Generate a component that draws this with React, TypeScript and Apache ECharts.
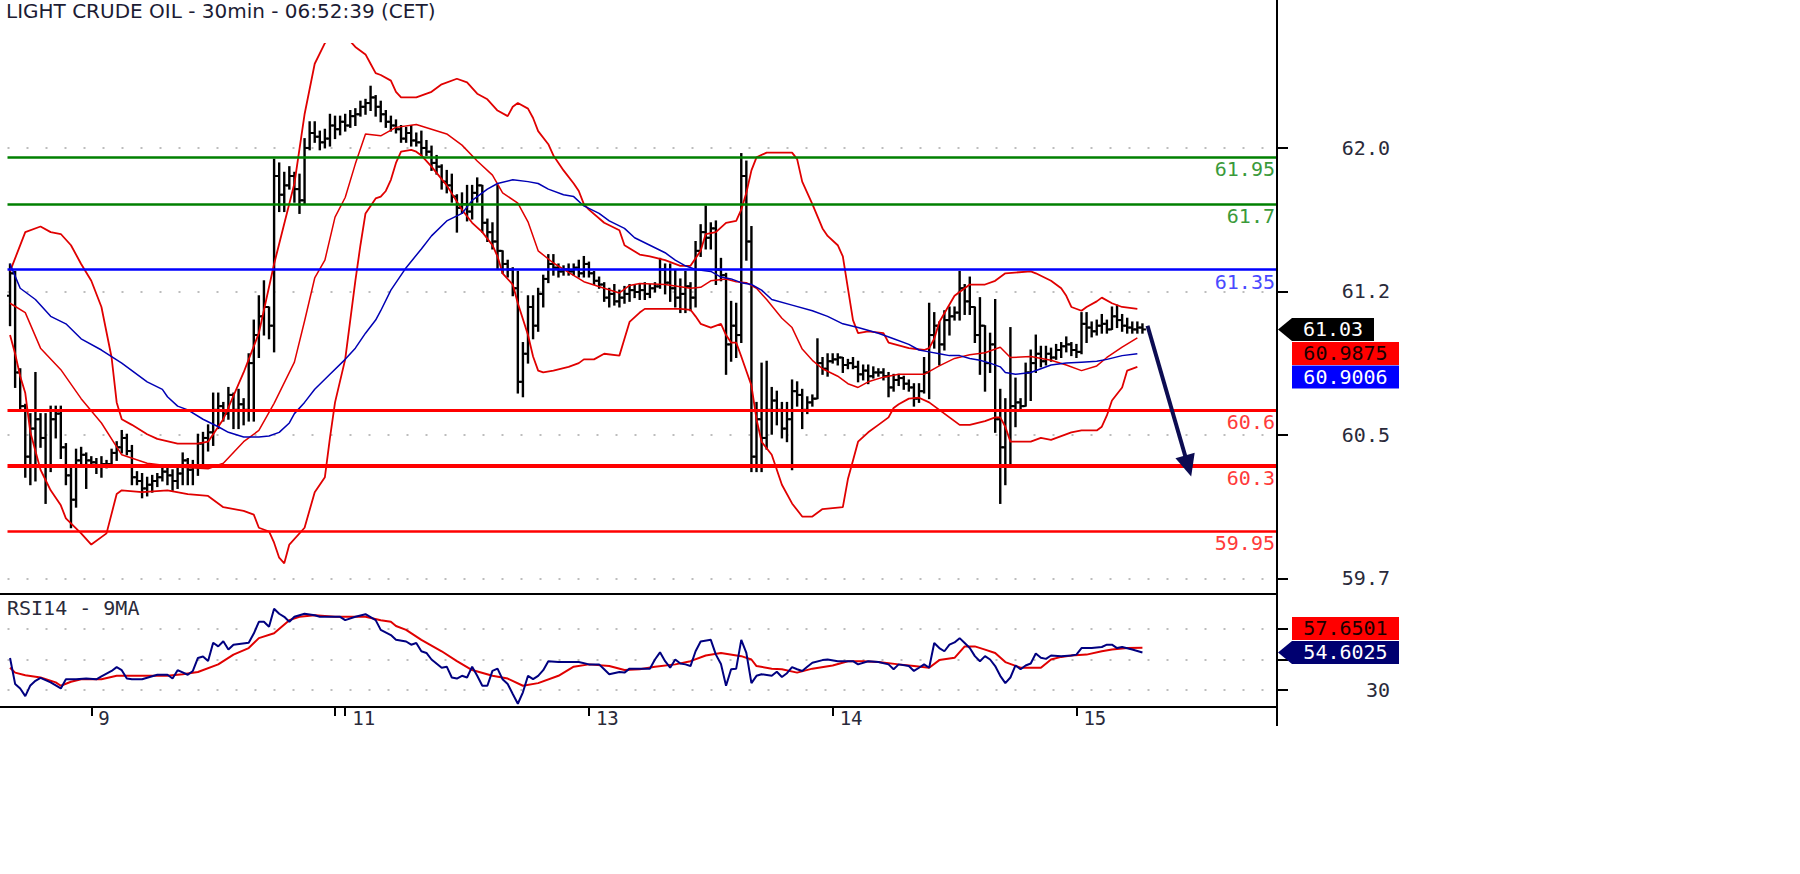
import React, { useEffect, useRef } from 'react';
import * as echarts from 'echarts';

// ---------- texts ----------
const TITLE = 'LIGHT CRUDE OIL - 30min - 06:52:39 (CET)';
const RSI_TITLE = 'RSI14 - 9MA';

// ---------- x axis (30-min slots, 250 slots, 224 bars) ----------
const SLOT_COUNT = 250;
const slotNames: string[] = [];
for (let i = 0; i < SLOT_COUNT; i++) slotNames.push(String(i));
const dayLabelSlots = [16, 66, 114, 162, 210];
const dayLabels = ['9', '11', '13', '14', '15'];
const dayTickSlots = [16, 64, 66, 114, 162, 210];

// ---------- price axis ----------
const priceTicks = [59.7, 60.467, 61.234, 62.0];
const rsiTicks = [30, 50, 70];
const rsiLabelTicks = [30];

// ---------- horizontal levels ----------
const levelValues = [61.95, 61.7, 61.35, 60.6, 60.3, 59.95];
const levelLabels = ['61.95', '61.7', '61.35', '60.6', '60.3', '59.95'];

// ---------- last values ----------
const lastPrice = 61.03;
const lastMidBand = 60.9875;
const lastMA = 60.9006;
const lastRsiMA = 57.6501;
const lastRsi = 54.6025;
const arrowFrom = [224, 61.05];
const arrowTo = [232.4, 60.3];

// ---------- OHLC bars [open, high, low, close] ----------
const ohlc = [
  [61.21, 61.38, 61.05, 61.33], [61.33, 61.34, 60.72, 60.80], [60.80, 60.82, 60.60, 60.62], [60.62, 60.63, 60.24, 60.35],
  [60.35, 60.58, 60.20, 60.50], [60.50, 60.80, 60.22, 60.55], [60.55, 60.58, 60.40, 60.45], [60.45, 60.58, 60.10, 60.30],
  [60.30, 60.62, 60.27, 60.55], [60.55, 60.62, 60.45, 60.58], [60.58, 60.62, 60.34, 60.40], [60.40, 60.42, 60.20, 60.25],
  [60.25, 60.30, 59.97, 60.12], [60.12, 60.39, 60.08, 60.33], [60.33, 60.40, 60.31, 60.36], [60.36, 60.37, 60.18, 60.33],
  [60.33, 60.35, 60.30, 60.32], [60.32, 60.34, 60.26, 60.30], [60.30, 60.35, 60.24, 60.31], [60.31, 60.33, 60.29, 60.31],
  [60.31, 60.39, 60.30, 60.37], [60.37, 60.43, 60.33, 60.40], [60.40, 60.49, 60.37, 60.45], [60.45, 60.47, 60.36, 60.38],
  [60.38, 60.41, 60.20, 60.24], [60.24, 60.27, 60.20, 60.22], [60.22, 60.26, 60.13, 60.18], [60.18, 60.24, 60.14, 60.20],
  [60.20, 60.25, 60.16, 60.22], [60.22, 60.26, 60.19, 60.24], [60.24, 60.29, 60.22, 60.27], [60.27, 60.29, 60.20, 60.25],
  [60.25, 60.28, 60.17, 60.22], [60.22, 60.30, 60.18, 60.26], [60.26, 60.37, 60.20, 60.33], [60.33, 60.34, 60.20, 60.28],
  [60.28, 60.33, 60.20, 60.30], [60.30, 60.47, 60.25, 60.42], [60.42, 60.48, 60.30, 60.45], [60.45, 60.52, 60.38, 60.48],
  [60.48, 60.69, 60.41, 60.60], [60.60, 60.69, 60.50, 60.62], [60.62, 60.64, 60.54, 60.58], [60.58, 60.72, 60.55, 60.68],
  [60.68, 60.69, 60.50, 60.60], [60.60, 60.71, 60.50, 60.63], [60.63, 60.66, 60.52, 60.60], [60.60, 60.90, 60.54, 60.85],
  [60.85, 61.08, 60.54, 61.00], [61.00, 61.21, 60.88, 61.10], [61.10, 61.29, 61.00, 61.15], [61.15, 61.15, 60.98, 61.05],
  [61.05, 61.94, 60.91, 61.85], [61.85, 61.92, 61.66, 61.75], [61.75, 61.87, 61.66, 61.80], [61.80, 61.90, 61.78, 61.85],
  [61.85, 61.87, 61.71, 61.78], [61.78, 61.86, 61.65, 61.72], [61.72, 62.05, 61.70, 62.00], [62.00, 62.14, 61.99, 62.08],
  [62.08, 62.14, 62.03, 62.06], [62.06, 62.09, 61.99, 62.03], [62.03, 62.10, 62.00, 62.05], [62.05, 62.18, 62.01, 62.12],
  [62.12, 62.17, 62.05, 62.10], [62.10, 62.17, 62.07, 62.14], [62.14, 62.18, 62.09, 62.12], [62.12, 62.20, 62.11, 62.17],
  [62.17, 62.21, 62.12, 62.18], [62.18, 62.25, 62.17, 62.22], [62.22, 62.26, 62.18, 62.24], [62.24, 62.33, 62.20, 62.27],
  [62.27, 62.28, 62.17, 62.22], [62.22, 62.25, 62.14, 62.18], [62.18, 62.20, 62.11, 62.14], [62.14, 62.17, 62.09, 62.12],
  [62.12, 62.15, 62.08, 62.10], [62.10, 62.12, 62.03, 62.05], [62.05, 62.11, 62.03, 62.08], [62.08, 62.12, 62.01, 62.04],
  [62.04, 62.08, 62.01, 62.03], [62.03, 62.09, 61.96, 62.00], [62.00, 62.04, 61.96, 61.98], [61.98, 62.01, 61.88, 61.92],
  [61.92, 61.96, 61.86, 61.90], [61.90, 61.91, 61.78, 61.82], [61.82, 61.88, 61.76, 61.80], [61.80, 61.86, 61.71, 61.74],
  [61.74, 61.75, 61.55, 61.68], [61.68, 61.76, 61.65, 61.70], [61.70, 61.80, 61.61, 61.66], [61.66, 61.80, 61.62, 61.76],
  [61.76, 61.84, 61.71, 61.80], [61.80, 61.80, 61.55, 61.60], [61.60, 61.62, 61.50, 61.55], [61.55, 61.60, 61.46, 61.50],
  [61.50, 61.80, 61.35, 61.45], [61.45, 61.45, 61.33, 61.38], [61.38, 61.40, 61.31, 61.35], [61.35, 61.36, 61.21, 61.25],
  [61.25, 61.34, 60.69, 60.75], [60.75, 60.96, 60.67, 60.90], [60.90, 61.21, 60.85, 61.15], [61.15, 61.21, 60.98, 61.05],
  [61.05, 61.25, 61.02, 61.22], [61.22, 61.32, 61.15, 61.30], [61.30, 61.43, 61.28, 61.38], [61.38, 61.43, 61.32, 61.36],
  [61.36, 61.38, 61.31, 61.34], [61.34, 61.37, 61.32, 61.35], [61.35, 61.38, 61.32, 61.34], [61.34, 61.38, 61.32, 61.36],
  [61.36, 61.40, 61.31, 61.33], [61.33, 61.42, 61.31, 61.38], [61.38, 61.39, 61.31, 61.33], [61.33, 61.34, 61.27, 61.29],
  [61.29, 61.31, 61.25, 61.27], [61.27, 61.28, 61.18, 61.20], [61.20, 61.25, 61.15, 61.22], [61.22, 61.27, 61.16, 61.18],
  [61.18, 61.24, 61.15, 61.20], [61.20, 61.26, 61.17, 61.22], [61.22, 61.27, 61.18, 61.24], [61.24, 61.27, 61.20, 61.23],
  [61.23, 61.27, 61.19, 61.24], [61.24, 61.28, 61.19, 61.22], [61.22, 61.27, 61.20, 61.25], [61.25, 61.28, 61.23, 61.26],
  [61.26, 61.41, 61.25, 61.35], [61.35, 61.38, 61.22, 61.28], [61.28, 61.38, 61.18, 61.25], [61.25, 61.35, 61.15, 61.20],
  [61.20, 61.30, 61.12, 61.22], [61.22, 61.34, 61.12, 61.26], [61.26, 61.28, 61.13, 61.20], [61.20, 61.50, 61.15, 61.45],
  [61.45, 61.59, 61.42, 61.55], [61.55, 61.69, 61.46, 61.52], [61.52, 61.60, 61.46, 61.57], [61.57, 61.61, 61.27, 61.35],
  [61.35, 61.41, 61.29, 61.32], [61.32, 61.33, 60.79, 60.95], [60.95, 61.18, 60.86, 61.05], [61.05, 61.17, 60.88, 61.00],
  [61.00, 61.97, 60.96, 61.85], [61.85, 61.93, 61.40, 61.50], [61.50, 61.58, 60.27, 60.35], [60.35, 60.64, 60.27, 60.55],
  [60.55, 60.85, 60.27, 60.45], [60.45, 60.86, 60.39, 60.60], [60.60, 60.72, 60.47, 60.65], [60.65, 60.70, 60.52, 60.60],
  [60.60, 60.64, 60.45, 60.50], [60.50, 60.64, 60.43, 60.55], [60.55, 60.76, 60.28, 60.70], [60.70, 60.75, 60.62, 60.68],
  [60.68, 60.71, 60.50, 60.60], [60.60, 60.67, 60.58, 60.64], [60.64, 60.68, 60.62, 60.66], [60.66, 60.98, 60.66, 60.85],
  [60.85, 60.88, 60.79, 60.82], [60.82, 60.90, 60.78, 60.86], [60.86, 60.90, 60.85, 60.87], [60.87, 60.90, 60.84, 60.88],
  [60.88, 60.88, 60.80, 60.84], [60.84, 60.87, 60.82, 60.85], [60.85, 60.88, 60.82, 60.83], [60.83, 60.86, 60.75, 60.79],
  [60.79, 60.84, 60.76, 60.81], [60.81, 60.84, 60.74, 60.78], [60.78, 60.83, 60.77, 60.80], [60.80, 60.82, 60.78, 60.80],
  [60.80, 60.82, 60.76, 60.78], [60.78, 60.80, 60.67, 60.72], [60.72, 60.79, 60.70, 60.76], [60.76, 60.79, 60.73, 60.77],
  [60.77, 60.78, 60.71, 60.74], [60.74, 60.76, 60.70, 60.72], [60.72, 60.74, 60.62, 60.66], [60.66, 60.74, 60.64, 60.70],
  [60.70, 60.88, 60.69, 60.80], [60.80, 61.17, 60.66, 61.00], [61.00, 61.12, 60.93, 61.05], [61.05, 61.07, 60.84, 60.95],
  [60.95, 61.13, 60.92, 61.08], [61.08, 61.15, 61.00, 61.10], [61.10, 61.15, 61.08, 61.12], [61.12, 61.34, 61.08, 61.25],
  [61.25, 61.27, 61.11, 61.18], [61.18, 61.31, 61.11, 61.15], [61.15, 61.15, 60.96, 61.00], [61.00, 61.20, 60.79, 61.05],
  [61.05, 61.05, 60.70, 60.85], [60.85, 61.01, 60.80, 60.95], [60.95, 61.19, 60.48, 60.55], [60.55, 60.71, 60.10, 60.40],
  [60.40, 60.66, 60.20, 60.30], [60.30, 61.04, 60.30, 60.62], [60.62, 60.77, 60.51, 60.64], [60.64, 60.66, 60.60, 60.62],
  [60.62, 60.85, 60.62, 60.80], [60.80, 60.92, 60.65, 60.85], [60.85, 61.00, 60.80, 60.90], [60.90, 60.94, 60.83, 60.86],
  [60.86, 60.94, 60.84, 60.90], [60.90, 60.93, 60.86, 60.88], [60.88, 60.95, 60.87, 60.92], [60.92, 60.96, 60.88, 60.94],
  [60.94, 60.99, 60.91, 60.95], [60.95, 60.96, 60.89, 60.92], [60.92, 60.95, 60.88, 60.91], [60.91, 61.12, 60.90, 61.06],
  [61.06, 61.12, 60.96, 61.04], [61.04, 61.07, 60.99, 61.02], [61.02, 61.08, 61.00, 61.05], [61.05, 61.11, 61.01, 61.06],
  [61.06, 61.08, 61.01, 61.03], [61.03, 61.15, 61.03, 61.10], [61.10, 61.16, 61.04, 61.08], [61.08, 61.11, 61.02, 61.05],
  [61.05, 61.09, 61.01, 61.04], [61.04, 61.07, 61.01, 61.03], [61.03, 61.07, 61.01, 61.04], [61.04, 61.06, 61.01, 61.03],
];

// ---------- Bollinger bands and moving average, read as [bar, value] ----------
const upperBand = [
  [0, 61.34], [3, 61.55], [6, 61.58], [8, 61.55], [10, 61.54], [12, 61.48], [14, 61.38], [16, 61.29], [18, 61.15],
  [20, 60.88], [21, 60.64], [22, 60.55], [24, 60.52], [27, 60.47], [29, 60.445], [33, 60.42], [37, 60.42], [39, 60.43],
  [42, 60.55], [46, 60.8], [49, 61.01], [52, 61.38], [56, 61.81], [58, 62.18], [60, 62.45], [62, 62.56], [64, 62.62],
  [66, 62.6], [68, 62.54], [70, 62.5], [71, 62.45], [72, 62.4], [73, 62.39], [75, 62.36], [76, 62.3], [77, 62.27],
  [80, 62.27], [83, 62.3], [85, 62.34], [88, 62.37], [90, 62.35], [92, 62.29], [94, 62.26], [96, 62.2], [98, 62.17],
  [99, 62.22], [100, 62.24], [102, 62.21], [103, 62.16], [104, 62.09], [106, 62.02], [107, 61.96], [109, 61.88],
  [111, 61.81], [112, 61.77], [113, 61.7], [114, 61.67], [117, 61.6], [120, 61.56], [121, 61.48], [124, 61.43],
  [126, 61.42], [129, 61.4], [132, 61.37], [134, 61.37], [136, 61.45], [137, 61.54], [139, 61.55], [141, 61.6],
  [143, 61.61], [144, 61.67], [145, 61.76], [146, 61.88], [147, 61.95], [149, 61.975], [154, 61.975], [155, 61.94],
  [156, 61.82], [158, 61.7], [160, 61.57], [161, 61.53], [163, 61.48], [164, 61.42], [165, 61.25], [166, 61.08],
  [167, 61.01], [169, 61.02], [172, 61.01], [173, 60.96], [177, 60.93], [180, 60.92], [181, 60.93], [182, 60.98],
  [183, 61.07], [186, 61.21], [189, 61.27], [192, 61.27], [194, 61.29], [196, 61.33], [201, 61.34], [202, 61.33],
  [205, 61.29], [207, 61.25], [208, 61.21], [209, 61.15], [211, 61.13], [212, 61.15], [214, 61.18], [215, 61.2],
  [217, 61.17], [219, 61.15], [222, 61.14],
];
const midBand = [
  [0, 61.17], [3, 61.12], [6, 60.93], [10, 60.815], [14, 60.66], [18, 60.53], [22, 60.36], [27, 60.315], [33, 60.295],
  [39, 60.285], [42, 60.315], [46, 60.43], [49, 60.49], [52, 60.635], [56, 60.855], [58, 61.075], [60, 61.305],
  [62, 61.4], [64, 61.63], [66, 61.735], [68, 61.915], [70, 62.075], [73, 62.065], [76, 62.11], [80, 62.125],
  [83, 62.1], [86, 62.075], [89, 62.015], [92, 61.93], [95, 61.855], [97, 61.76], [100, 61.705], [102, 61.605],
  [104, 61.45], [107, 61.385], [110, 61.335], [113, 61.285], [117, 61.25], [120, 61.225], [122, 61.265], [124, 61.275],
  [129, 61.27], [134, 61.25], [136, 61.255], [138, 61.29], [141, 61.3], [143, 61.285], [145, 61.28], [147, 61.25],
  [149, 61.19], [152, 61.09], [154, 61.04], [156, 60.925], [158, 60.865], [160, 60.82], [163, 60.78], [165, 60.74],
  [167, 60.72], [169, 60.75], [172, 60.775], [175, 60.79], [180, 60.79], [183, 60.835], [186, 60.875], [189, 60.895],
  [192, 60.905], [195, 60.935], [197, 60.88], [201, 60.885], [205, 60.865], [208, 60.84], [211, 60.81], [214, 60.835],
  [216, 60.88], [219, 60.935], [222, 60.985],
];
const lowerBand = [
  [0, 61.0], [1, 60.9], [2, 60.78], [3, 60.69], [4, 60.48], [5, 60.38], [6, 60.28], [8, 60.17], [10, 60.09], [11, 60.02],
  [14, 59.94], [16, 59.88], [19, 59.94], [21, 60.15], [22, 60.17], [26, 60.16], [31, 60.17], [35, 60.15], [39, 60.14],
  [42, 60.08], [46, 60.06], [48, 60.04], [49, 59.97], [51, 59.95], [52, 59.89], [53, 59.81], [54, 59.78], [55, 59.88],
  [58, 59.97], [60, 60.16], [62, 60.24], [63, 60.45], [64, 60.64], [66, 60.87], [67, 61.08], [68, 61.29], [69, 61.48],
  [70, 61.65], [72, 61.73], [73, 61.74], [74, 61.77], [75, 61.83], [76, 61.92], [77, 61.98], [79, 61.99], [80, 61.98],
  [81, 61.96], [83, 61.9], [86, 61.8], [89, 61.67], [91, 61.6], [93, 61.55], [95, 61.48], [96, 61.42], [97, 61.33],
  [99, 61.27], [100, 61.17], [102, 61.0], [103, 60.885], [104, 60.81], [105, 60.8], [107, 60.81], [110, 60.83],
  [112, 60.85], [113, 60.87], [115, 60.87], [117, 60.9], [120, 60.89], [121, 60.98], [122, 61.07], [124, 61.12],
  [125, 61.14], [129, 61.14], [132, 61.14], [134, 61.135], [135, 61.1], [136, 61.06], [138, 61.04], [140, 61.06],
  [141, 61.0], [142, 60.96], [143, 60.96], [144, 60.885], [146, 60.73], [147, 60.55], [148, 60.43], [150, 60.36],
  [152, 60.2], [154, 60.1], [156, 60.03], [158, 60.03], [160, 60.07], [164, 60.08], [165, 60.23], [166, 60.33],
  [167, 60.43], [169, 60.48], [171, 60.52], [173, 60.56], [174, 60.61], [175, 60.63], [177, 60.66], [179, 60.665],
  [181, 60.64], [183, 60.6], [185, 60.56], [187, 60.52], [189, 60.52], [192, 60.54], [194, 60.56], [195, 60.56],
  [196, 60.51], [197, 60.43], [201, 60.43], [203, 60.45], [205, 60.44], [207, 60.46], [209, 60.48], [211, 60.49],
  [214, 60.49], [215, 60.51], [216, 60.57], [217, 60.65], [219, 60.72], [220, 60.81], [222, 60.83],
];
const movingAvg = [
  [0, 61.38], [1, 61.315], [2, 61.25], [5, 61.19], [8, 61.1], [11, 61.06], [14, 60.98], [18, 60.92], [20, 60.885],
  [22, 60.85], [24, 60.81], [27, 60.75], [30, 60.71], [31, 60.67], [33, 60.62], [35, 60.6], [38, 60.55], [41, 60.51],
  [43, 60.48], [46, 60.455], [49, 60.455], [51, 60.46], [53, 60.48], [55, 60.53], [56, 60.58], [58, 60.64], [60, 60.71],
  [63, 60.79], [66, 60.87], [68, 60.93], [70, 61.01], [72, 61.08], [73, 61.13], [75, 61.24], [78, 61.36], [81, 61.46],
  [83, 61.53], [86, 61.61], [89, 61.65], [91, 61.72], [94, 61.78], [96, 61.81], [99, 61.83], [102, 61.82], [104, 61.81],
  [106, 61.78], [109, 61.75], [111, 61.74], [113, 61.69], [116, 61.65], [118, 61.61], [121, 61.57], [123, 61.52],
  [126, 61.48], [129, 61.44], [131, 61.4], [133, 61.37], [135, 61.35], [138, 61.34], [140, 61.31], [142, 61.3],
  [144, 61.28], [146, 61.27], [148, 61.24], [150, 61.19], [154, 61.16], [158, 61.13], [161, 61.1], [164, 61.06],
  [167, 61.04], [171, 61.01], [174, 60.98], [177, 60.95], [179, 60.92], [181, 60.91], [183, 60.9], [185, 60.89],
  [187, 60.89], [189, 60.875], [191, 60.865], [193, 60.85], [195, 60.83], [196, 60.8], [198, 60.79], [201, 60.8],
  [203, 60.82], [205, 60.84], [208, 60.85], [211, 60.855], [214, 60.86], [216, 60.87], [219, 60.89], [222, 60.9],
];

// ---------- RSI(14) and its 9-period MA, read as [bar, value] ----------
const rsiLine = [
  [0, 51], [1, 34], [2, 31], [3, 26], [4, 33], [5, 36], [6, 38], [8, 35], [9, 33], [10, 31], [11, 37], [13, 37], [15, 37.5],
  [17, 37], [18, 39], [20, 42.5], [21, 45], [22, 43], [23, 37.5], [24, 37], [26, 37], [27, 38], [29, 40], [31, 40],
  [32, 37.5], [33, 43], [35, 40], [36, 42.5], [37, 51], [38, 52], [39, 49], [40, 61], [41, 58.6], [42, 62], [43, 56.5],
  [44, 59.7], [47, 61], [48, 67], [49, 74.7], [50, 74.7], [51, 71.5], [52, 83.3], [53, 80], [54, 78], [55, 74.7], [56, 78],
  [58, 80], [60, 79], [61, 78], [63, 78], [65, 78], [66, 75.8], [68, 78], [70, 79.7], [72, 75.8], [73, 69.4], [75, 66],
  [76, 63], [78, 61.8], [79, 59.7], [80, 60.8], [81, 55.4], [82, 54.3], [83, 50], [85, 44.6], [86, 45.3], [87, 38.2],
  [88, 37.5], [89, 39.3], [90, 38.2], [91, 45.3], [92, 39.3], [93, 32.8], [94, 32.8], [95, 42.5], [96, 44], [97, 37],
  [98, 33.9], [99, 27.4], [100, 21], [101, 28.5], [102, 39.3], [103, 37.1], [104, 39.3], [105, 43], [106, 48.9],
  [108, 48.3], [112, 48.3], [114, 46.8], [116, 46.8], [117, 43.6], [118, 40.3], [120, 41.8], [121, 41.4], [122, 44],
  [126, 44], [127, 50], [128, 54.7], [129, 48.9], [130, 44.6], [131, 50], [132, 47.4], [133, 46.8], [134, 45.7],
  [135, 55.4], [136, 61.8], [138, 62.9], [139, 53.2], [140, 47], [141, 32.8], [142, 43.6], [143, 44], [144, 62.9],
  [145, 54.3], [146, 34.5], [147, 39.3], [148, 40.3], [150, 39.3], [151, 42], [152, 38.5], [153, 41], [154, 45],
  [155, 43.6], [156, 42.5], [157, 45.3], [158, 47.9], [160, 49.6], [161, 50], [163, 48.9], [166, 48.9], [167, 46.8],
  [169, 48.9], [171, 48.3], [173, 46.8], [174, 43.6], [175, 46.8], [177, 45.7], [178, 42.5], [179, 44.6], [180, 46.8],
  [181, 44.6], [182, 60.8], [183, 57.5], [184, 55.4], [185, 59.7], [186, 61.2], [187, 64], [188, 60.8], [189, 57.5],
  [190, 52.2], [191, 48.9], [192, 52.2], [193, 50], [194, 45.7], [195, 39.3], [196, 34.5], [197, 38.2], [198, 46.1],
  [199, 43.6], [200, 46.1], [201, 47.4], [202, 53.9], [203, 51.1], [204, 50.4], [205, 52.6], [207, 52.2], [209, 52.6],
  [210, 53.2], [211, 57.5], [213, 57.5], [215, 58.2], [216, 59.7], [217, 59.7], [218, 57.5], [219, 58.2], [221, 56.5],
  [223, 54.6],
];
const rsiMA = [
  [0, 44.6], [1, 41.4], [3, 39.7], [6, 38.2], [9, 35], [10, 32.8], [12, 35.4], [14, 37.1], [18, 37.1], [21, 39.3],
  [24, 39.3], [28, 39.3], [31, 39.3], [34, 40.3], [37, 41.8], [41, 46.8], [44, 53.2], [47, 57.5], [49, 64], [52, 67.2],
  [55, 75.8], [57, 78], [60, 79], [64, 78], [67, 78], [70, 78], [73, 75.8], [75, 74.7], [76, 72], [78, 69.4], [81, 62.9],
  [85, 55.4], [88, 48.9], [91, 43.1], [95, 39.3], [98, 37.5], [101, 32.8], [104, 34.5], [108, 39.3], [111, 45.3],
  [114, 46.8], [118, 45.7], [121, 43.1], [124, 43.6], [127, 45.3], [131, 46.8], [134, 48.9], [137, 52.6], [140, 54.3],
  [144, 52.2], [146, 50], [147, 45.7], [150, 44], [152, 43.6], [155, 41.4], [158, 44], [162, 46.1], [165, 48.9],
  [168, 48.9], [171, 48.3], [175, 46.8], [178, 45.7], [181, 44.6], [183, 49.6], [186, 51.1], [188, 58.6], [190, 58.6],
  [192, 56.5], [194, 54.3], [196, 48.3], [199, 44.6], [203, 44.6], [205, 50], [207, 51.7], [209, 52.6], [212, 53.2],
  [215, 55.4], [217, 56.5], [220, 57.5], [223, 57.65],
];

// ---------- styles ----------
const MONO = '"DejaVu Sans Mono", monospace';
const SANS = '"DejaVu Sans", sans-serif';
const levelColors = ['#008000', '#008000', '#0000ff', '#ff0000', '#ff0000', '#ff0000'];
const levelLabelColors = ['#3a9a3a', '#3a9a3a', '#4a4aff', '#ff3a3a', '#ff3a3a', '#ff3a3a'];
const levelWidths = [2.5, 2.5, 2.5, 3, 4, 2.5];
const BAND_RED = '#e00000';

export default function App() {
  const ref = useRef<HTMLDivElement>(null);

  useEffect(() => {
    if (!ref.current) return;
    const chart = echarts.init(ref.current, undefined, { renderer: 'svg' });

    const gridLeft = 7.5;
    const axisX = 1277;
    const gridRight = 1800 - axisX;

    const dotted = { color: '#bdbdbd', width: 2, type: [2, 17] as any };

    const option: any = {
      animation: false,
      backgroundColor: '#ffffff',
      grid: [
        { left: gridLeft, right: gridRight, top: 44, height: 548 },
        { left: gridLeft, right: gridRight, top: 594, height: 113 },
      ],
      xAxis: [
        { type: 'category', gridIndex: 0, data: slotNames, boundaryGap: true, show: false },
        {
          type: 'category', gridIndex: 1, data: slotNames, boundaryGap: true,
          axisLine: { show: false },
          axisTick: {
            show: true, alignWithLabel: true, length: 9,
            interval: (i: number) => dayTickSlots.indexOf(i) >= 0,
            lineStyle: { color: '#000', width: 2 },
          },
          axisLabel: {
            show: true,
            interval: (i: number) => dayLabelSlots.indexOf(i) >= 0,
            formatter: (v: string) => {
              const k = dayLabelSlots.indexOf(Number(v));
              return k >= 0 ? dayLabels[k] : '';
            },
            align: 'left', padding: [0, 0, 0, 7], margin: 1,
            fontFamily: MONO, fontSize: 19, color: '#2a2a3a',
          },
          splitLine: { show: false },
        },
      ],
      yAxis: [
        {
          type: 'value', gridIndex: 0, position: 'right', min: 59.6266, max: 62.5556, scale: true,
          axisLine: { show: false },
          axisTick: { show: true, customValues: priceTicks, length: 11, lineStyle: { color: '#000', width: 2 } },
          axisLabel: {
            show: true, customValues: priceTicks, formatter: (v: number) => v.toFixed(1),
            align: 'right', margin: 113, fontFamily: MONO, fontSize: 20, color: '#2a2a3a',
          },
          splitLine: { show: true, lineStyle: dotted },
        },
        {
          type: 'value', gridIndex: 1, position: 'right', min: 18.85, max: 92.95,
          axisLine: { show: false },
          axisTick: { show: true, customValues: rsiTicks, length: 11, lineStyle: { color: '#000', width: 2 } },
          axisLabel: {
            show: true, customValues: rsiLabelTicks, formatter: (v: number) => String(v),
            align: 'right', margin: 113, fontFamily: MONO, fontSize: 20, color: '#2a2a3a',
          },
          splitLine: { show: true, lineStyle: dotted },
        },
      ],
      series: [
        {
          name: 'levels', type: 'line', xAxisIndex: 0, yAxisIndex: 0, data: [], z: 1,
          markLine: {
            silent: true, symbol: 'none', animation: false,
            data: levelValues.map((v, k) => ({
              yAxis: v,
              lineStyle: { color: levelColors[k], width: levelWidths[k], type: 'solid' },
              label: {
                show: true, position: 'insideEndBottom', formatter: levelLabels[k], distance: 2,
                color: levelLabelColors[k], fontFamily: MONO, fontSize: 20,
              },
            })),
          },
        },
        {
          name: 'bars', type: 'custom', xAxisIndex: 0, yAxisIndex: 0, z: 2, clip: true,
          data: ohlc.map((d, i) => [i, d[0], d[1], d[2], d[3]]),
          encode: { x: 0, y: [1, 2, 3, 4] },
          renderItem: (params: any, api: any) => {
            const x = api.value(0);
            const pO = api.coord([x, api.value(1)]);
            const pH = api.coord([x, api.value(2)]);
            const pL = api.coord([x, api.value(3)]);
            const pC = api.coord([x, api.value(4)]);
            const cx = pH[0];
            const st = { stroke: '#000', lineWidth: 2.4 };
            const tk = { stroke: '#000', lineWidth: 2 };
            return {
              type: 'group',
              children: [
                { type: 'line', shape: { x1: cx, y1: pH[1] - 0.5, x2: cx, y2: pL[1] + 0.5 }, style: st },
                { type: 'line', shape: { x1: cx - 3.5, y1: pO[1], x2: cx, y2: pO[1] }, style: tk },
                { type: 'line', shape: { x1: cx, y1: pC[1], x2: cx + 3.5, y2: pC[1] }, style: tk },
              ],
            };
          },
        },
        {
          name: 'upper', type: 'line', xAxisIndex: 0, yAxisIndex: 0, data: upperBand, z: 3,
          symbol: 'none', lineStyle: { color: BAND_RED, width: 1.8 }, clip: true,
        },
        {
          name: 'middle', type: 'line', xAxisIndex: 0, yAxisIndex: 0, data: midBand, z: 3,
          symbol: 'none', lineStyle: { color: BAND_RED, width: 1.5 }, clip: true,
        },
        {
          name: 'lower', type: 'line', xAxisIndex: 0, yAxisIndex: 0, data: lowerBand, z: 3,
          symbol: 'none', lineStyle: { color: BAND_RED, width: 1.8 }, clip: true,
        },
        {
          name: 'ma', type: 'line', xAxisIndex: 0, yAxisIndex: 0, data: movingAvg, z: 3,
          symbol: 'none', lineStyle: { color: '#0000b4', width: 1.5 }, clip: true,
        },
        {
          name: 'arrow', type: 'line', xAxisIndex: 0, yAxisIndex: 0, data: [], z: 5,
          markLine: {
            silent: true, animation: false,
            symbol: ['none', 'triangle'], symbolSize: [20, 22],
            label: { show: false },
            lineStyle: { color: '#0c0c52', width: 4, type: 'solid' },
            data: [[{ coord: arrowFrom }, { coord: arrowTo }]],
          },
        },
        {
          name: 'rsiMA', type: 'line', xAxisIndex: 1, yAxisIndex: 1, data: rsiMA, z: 3,
          symbol: 'none', lineStyle: { color: '#e00000', width: 2 },
        },
        {
          name: 'rsi', type: 'line', xAxisIndex: 1, yAxisIndex: 1, data: rsiLine, z: 4,
          symbol: 'none', lineStyle: { color: '#000080', width: 2 },
        },
      ],
    };

    chart.setOption(option);

    const yPrice = chart.convertToPixel({ yAxisIndex: 0 } as any, lastPrice) as number;
    const yRsi = chart.convertToPixel({ yAxisIndex: 1 } as any, lastRsi) as number;

    const boxL = 1292;
    const boxH = 23;
    const tip = 1278;
    const txt = (text: string, x: number, y: number, fill: string, size = 20, family = MONO, align = 'center') => ({
      type: 'text', x, y, z: 20,
      style: { text, fill, fontFamily: family, fontSize: size, align, verticalAlign: 'middle' },
    });
    const pointerBox = (y: number, right: number, fill: string) => ({
      type: 'polygon', z: 19,
      shape: { points: [[tip, y], [boxL, y - boxH / 2], [right, y - boxH / 2], [right, y + boxH / 2], [boxL, y + boxH / 2]] },
      style: { fill },
    });
    const plainBox = (y: number, right: number, fill: string) => ({
      type: 'rect', z: 19, shape: { x: boxL, y: y - boxH / 2, width: right - boxL, height: boxH }, style: { fill },
    });

    const elements: any[] = [
      { type: 'line', z: 15, shape: { x1: axisX, y1: 0, x2: axisX, y2: 726 }, style: { stroke: '#000', lineWidth: 2 } },
      { type: 'line', z: 15, shape: { x1: 0, y1: 594, x2: axisX, y2: 594 }, style: { stroke: '#000', lineWidth: 2 } },
      { type: 'line', z: 15, shape: { x1: 0, y1: 707, x2: axisX, y2: 707 }, style: { stroke: '#000', lineWidth: 2 } },
      txt(TITLE, 6, 11, '#1c1c34', 20, SANS, 'left'),
      txt(RSI_TITLE, 7, 608, '#2a2a3a', 20, MONO, 'left'),
      pointerBox(yPrice, 1374, '#000000'),
      txt(lastPrice.toFixed(2), 1333, yPrice, '#ffffff'),
      plainBox(yPrice + 24, 1399, '#ff0000'),
      txt(lastMidBand.toFixed(4), 1345.5, yPrice + 24, '#1a0000'),
      plainBox(yPrice + 47.5, 1399, '#0000ff'),
      txt(lastMA.toFixed(4), 1345.5, yPrice + 47.5, '#ffffff'),
      plainBox(yRsi - 24, 1399, '#ff0000'),
      txt(lastRsiMA.toFixed(4), 1345.5, yRsi - 24, '#1a0000'),
      pointerBox(yRsi, 1399, '#000070'),
      txt(lastRsi.toFixed(4), 1345.5, yRsi, '#ffffff'),
    ];
    chart.setOption({ graphic: { elements } });

    return () => chart.dispose();
  }, []);

  return (
    <div
      ref={ref}
      style={{ position: 'fixed', left: 0, top: 0, width: 1800, height: 874, background: '#ffffff' }}
    />
  );
}
